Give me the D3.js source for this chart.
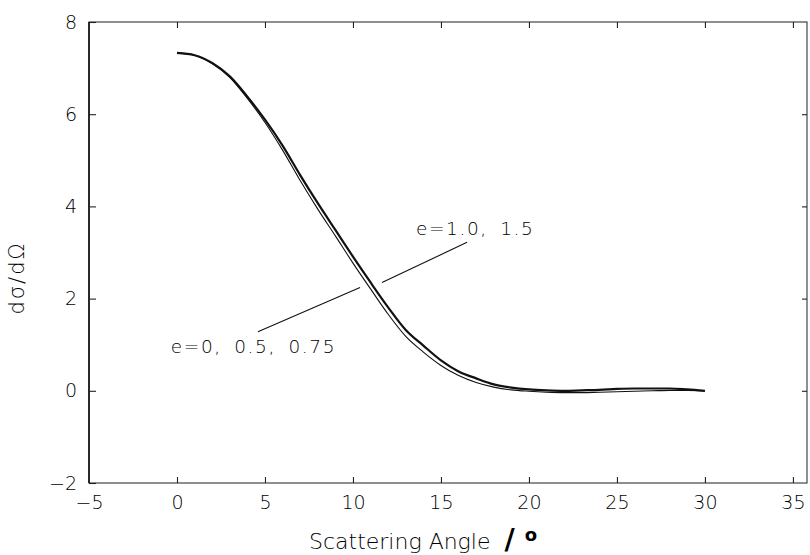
<!DOCTYPE html>
<html>
<head>
<meta charset="utf-8">
<script src="https://cdn.jsdelivr.net/npm/d3@7"></script>
<style>
  body { margin: 0; background: #fff; }
  svg text { font-family: "DejaVu Sans", sans-serif; font-weight: 200; fill: #000; }
</style>
</head>
<body>
<svg id="chart" width="810" height="555"></svg>
<script>
// scattering angle in degrees
var angle = [0,1,2,3,4,5,6,7,8,9,10,11,12,13,14,15,16,17,18,19,20,21,22,23,24,25,26,27,28,29,30];
// e = 1.0, 1.5 (heavy line)
var crossHigh = [7.33,7.28,7.11,6.82,6.38,5.88,5.32,4.68,4.07,3.49,2.91,2.35,1.81,1.32,0.98,0.66,0.42,0.27,0.14,0.07,0.03,0.01,0.00,0.01,0.02,0.04,0.05,0.05,0.05,0.03,0.00];
// e = 0, 0.5, 0.75 (thin line)
var crossLow = [7.33,7.28,7.10,6.80,6.34,5.82,5.22,4.56,3.94,3.36,2.77,2.21,1.66,1.18,0.84,0.55,0.33,0.18,0.08,0.02,-0.01,-0.03,-0.04,-0.04,-0.03,-0.02,-0.01,0.00,0.01,0.01,0.00];

var xTicks = [-5,0,5,10,15,20,25,30,35];
var yTicks = [-2,0,2,4,6,8];

// annotations, data coords
var labelLow = {text: "e=0, 0.5, 0.75", x: -0.35, y: 0.83};
var labelHigh = {text: "e=1.0, 1.5", x: 13.58, y: 3.37};
var leaderLow = [[4.6,1.28],[10.4,2.24]];
var leaderHigh = [[11.65,2.35],[16.48,3.22]];

var svg = d3.select("#chart");
var x = d3.scaleLinear().domain([-5, 35.8]).range([89, 807]);
var y = d3.scaleLinear().domain([-2, 8]).range([483, 22]);

function fmt(d){ return d < 0 ? "\u2212" + (-d) : d; }

// frame
svg.append("rect")
  .attr("x", x(-5)).attr("y", y(8))
  .attr("width", x(35.8) - x(-5)).attr("height", y(-2) - y(8))
  .attr("fill", "none").attr("stroke", "#333").attr("stroke-width", 1.1);
svg.append("line")
  .attr("x1", x(-5)).attr("x2", x(-5)).attr("y1", y(8)).attr("y2", y(-2))
  .attr("stroke", "#111").attr("stroke-width", 1.6);

// axes with inward ticks
var gBottom = svg.append("g").attr("transform", "translate(0," + y(-2) + ")")
  .call(d3.axisBottom(x).tickValues(xTicks).tickSize(-6).tickPadding(13).tickFormat(fmt));
var gTop = svg.append("g").attr("transform", "translate(0," + y(8) + ")")
  .call(d3.axisTop(x).tickValues(xTicks.slice(1)).tickSize(-6).tickFormat(""));
var gLeft = svg.append("g").attr("transform", "translate(" + x(-5) + ",0)")
  .call(d3.axisLeft(y).tickValues(yTicks).tickSize(-7).tickPadding(12).tickFormat(fmt));
var gRight = svg.append("g").attr("transform", "translate(" + x(35.8) + ",0)")
  .call(d3.axisRight(y).tickValues(yTicks.slice(1, -1)).tickSize(-5).tickFormat(""));

[gBottom, gTop, gLeft, gRight].forEach(function(g){
  g.select(".domain").remove();
  g.selectAll(".tick line").attr("stroke", "#222").attr("stroke-width", 1.1);
  g.selectAll(".tick text").style("font-size", "19px").attr("fill", "#000");
});
gBottom.selectAll(".tick").filter(function(d){ return d === -5; }).select("line").remove();

// curves
var line = d3.line()
  .x(function(d){ return x(d[0]); })
  .y(function(d){ return y(d[1]); })
  .curve(d3.curveMonotoneX);

svg.append("path")
  .datum(angle.map(function(a, i){ return [a, crossLow[i]]; }))
  .attr("d", line).attr("fill", "none").attr("stroke", "#111").attr("stroke-width", 1.1);
svg.append("path")
  .datum(angle.map(function(a, i){ return [a, crossHigh[i]]; }))
  .attr("d", line).attr("fill", "none").attr("stroke", "#111").attr("stroke-width", 2.2);

// leader lines + labels
[leaderLow, leaderHigh].forEach(function(seg){
  svg.append("line")
    .attr("x1", x(seg[0][0])).attr("y1", y(seg[0][1]))
    .attr("x2", x(seg[1][0])).attr("y2", y(seg[1][1]))
    .attr("stroke", "#111").attr("stroke-width", 1.1);
});
[labelLow, labelHigh].forEach(function(l){
  svg.append("text").attr("x", x(l.x)).attr("y", y(l.y))
    .style("font-size", "18.5px").style("letter-spacing", "1.6px").style("word-spacing", "5px")
    .text(l.text);
});

// axis titles
var xt = svg.append("text").attr("x", 309).attr("y", 549).style("font-size", "22px");
xt.append("tspan").text("Scattering Angle");
xt.append("tspan").attr("dx", 14).style("font-weight", "bold").style("font-size", "28px").text("/");
xt.append("tspan").attr("dx", 10).attr("dy", -8).style("font-weight", "bold").style("font-size", "18px").text("o");

svg.append("text")
  .attr("transform", "translate(24,278) rotate(-90)")
  .attr("text-anchor", "middle")
  .style("font-size", "21px")
  .style("letter-spacing", "2px")
  .text("d\u03c3/d\u03a9");
</script>
</body>
</html>
